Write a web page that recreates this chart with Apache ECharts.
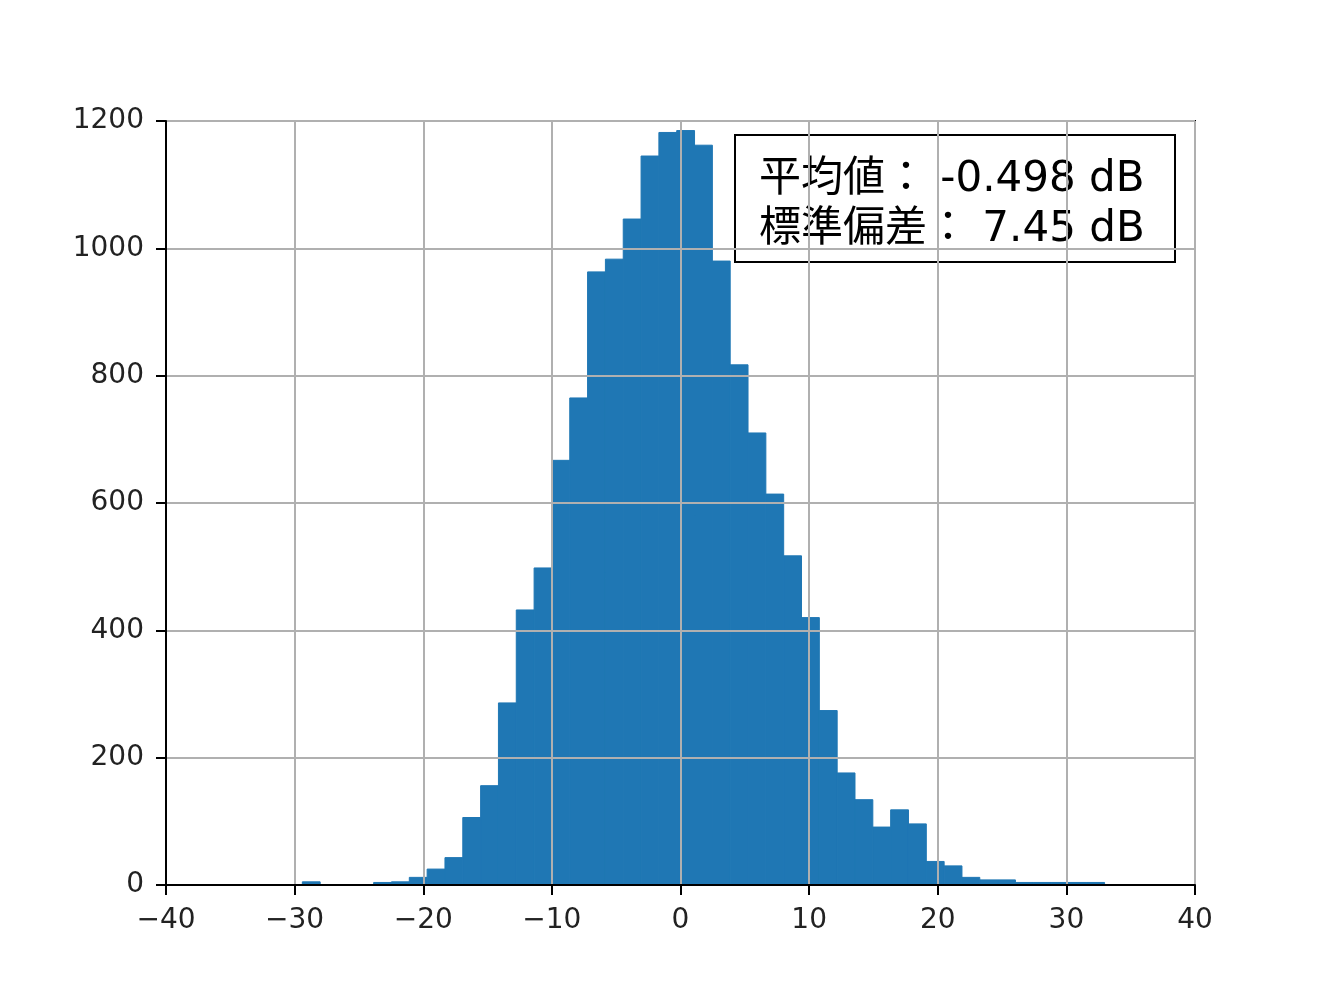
<!DOCTYPE html>
<html>
<head>
<meta charset="utf-8">
<script src="https://cdn.jsdelivr.net/npm/echarts@6/dist/echarts.min.js"></script>
<style>
html,body{margin:0;padding:0;background:#fff;}
#main{width:1328px;height:994px;}
</style>
</head>
<body>
<div id="main"></div>
<script>
// Histogram bins: first edge and bin width (dB)
var binStart = -29.4;
var binWidth = 1.386;
// Counts per bin
var counts = [5, 0, 0, 0, 4, 5, 12, 25, 43, 106,
              156, 286, 432, 498, 667, 765, 963, 983, 1046, 1145,
              1182, 1185, 1162, 980, 817, 710, 614, 517, 420, 274,
              176, 134, 91, 118, 96, 37, 30, 12, 8, 8,
              4, 4, 4, 4, 4];
var xTicks = [-40, -30, -20, -10, 0, 10, 20, 30, 40];
var yTicks = [0, 200, 400, 600, 800, 1000, 1200];
var statLines = ['平均値： -0.498 dB', '標準偏差： 7.45 dB'];

var data = counts.map(function (c, i) {
  return [binStart + i * binWidth, binStart + (i + 1) * binWidth, c];
});

var chart = echarts.init(document.getElementById('main'), null, {renderer: 'canvas'});
var labelFont = 'DejaVu Sans';
chart.setOption({
  animation: false,
  backgroundColor: '#ffffff',
  grid: {
    left: 166, right: 133, top: 121, bottom: 109,
    show: true, borderColor: '#000', borderWidth: 2, backgroundColor: 'transparent'
  },
  xAxis: {
    type: 'value', min: xTicks[0], max: xTicks[xTicks.length - 1], interval: 10, z: 3,
    axisLine: {show: true, onZero: false, lineStyle: {color: '#000', width: 2}},
    axisTick: {show: true, length: 10, lineStyle: {color: '#000', width: 2}},
    splitLine: {show: true, lineStyle: {color: '#b0b0b0', width: 2}},
    axisLabel: {
      fontSize: 28, fontFamily: labelFont, color: '#222', margin: 22,
      formatter: function (v) { return String(v).replace('-', '\u2212'); }
    }
  },
  yAxis: {
    type: 'value', min: yTicks[0], max: yTicks[yTicks.length - 1], interval: 200, z: 3,
    axisLine: {show: true, onZero: false, lineStyle: {color: '#000', width: 2}},
    axisTick: {show: true, length: 10, lineStyle: {color: '#000', width: 2}},
    splitLine: {show: true, lineStyle: {color: '#b0b0b0', width: 2}},
    axisLabel: {
      fontSize: 28, fontFamily: labelFont, color: '#222', margin: 22,
      formatter: function (v) { return String(v); }
    }
  },
  series: [{
    type: 'custom',
    z: 2,
    encode: {x: [0, 1], y: 2},
    data: data,
    renderItem: function (params, api) {
      var p0 = api.coord([api.value(0), api.value(2)]);
      var p1 = api.coord([api.value(1), 0]);
      return {
        type: 'rect',
        shape: {x: p0[0], y: p0[1], width: p1[0] - p0[0], height: p1[1] - p0[1]},
        style: {fill: '#1f77b4', stroke: '#1f77b4', lineWidth: 1}
      };
    }
  }],
  graphic: [{
    type: 'group', left: 734, top: 134, z: 10,
    children: [
      {type: 'rect', shape: {x: 0, y: 0, width: 440, height: 127},
       style: {fill: '#fff', stroke: '#000', lineWidth: 2}},
      {type: 'text', x: 24, y: 45,
       style: {text: statLines[0], font: '42px "DejaVu Sans", "Noto Sans CJK JP"', fill: '#000', verticalAlign: 'middle'}},
      {type: 'text', x: 24, y: 95,
       style: {text: statLines[1], font: '42px "DejaVu Sans", "Noto Sans CJK JP"', fill: '#000', verticalAlign: 'middle'}}
    ]
  }]
});
</script>
</body>
</html>
